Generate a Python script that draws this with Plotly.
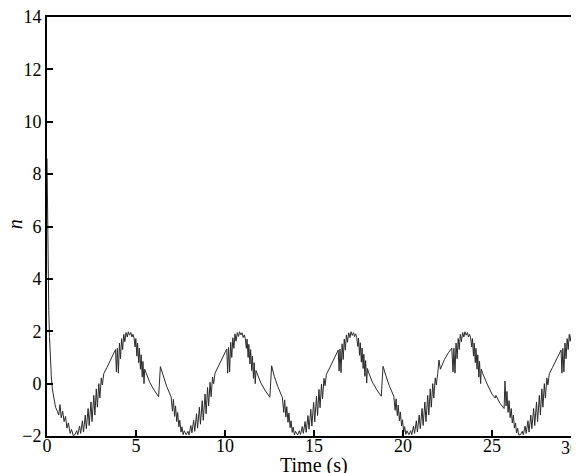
import plotly.graph_objects as go

# initial transient (t, n)
t_start = [0.00, 0.03, 0.06, 0.10, 0.14, 0.18, 0.24, 0.30, 0.38, 0.48, 0.58, 0.66, 0.73, 0.80, 0.88,
           0.96, 1.04, 1.12, 1.20, 1.30, 1.38, 1.47]
n_start = [8.6, 6.0, 4.2, 2.8, 1.8, 1.0, 0.3, -0.2, -0.6, -0.9, -1.05, -1.2, -0.8, -1.3, -1.05,
           -1.45, -1.25, -1.7, -1.5, -1.9, -1.75, -1.98]

# first cycle
t_p1 = [1.57, 1.67, 1.73, 1.83, 1.89, 1.99, 2.05, 2.15, 2.21, 2.31, 2.37, 2.47, 2.53, 2.63, 2.69, 2.77,
        2.83, 2.91, 2.97, 3.05, 3.11, 3.19,
        3.37, 3.57, 3.72, 3.85,
        3.90, 3.95, 4.01, 4.07, 4.13, 4.19, 4.25, 4.31, 4.37, 4.44, 4.51, 4.57, 4.64, 4.71, 4.77, 4.83,
        4.89, 4.95, 4.99, 5.05, 5.09, 5.15, 5.19, 5.25, 5.29, 5.35, 5.39, 5.45, 5.49, 5.57, 5.77, 6.02, 6.27,
        6.37, 6.52, 6.72, 6.97,
        7.05, 7.10, 7.17, 7.22, 7.29, 7.34, 7.41, 7.46, 7.53, 7.58, 7.65, 7.71]
n_p1 = [-1.95, -1.80, -1.95, -1.62, -1.90, -1.42, -1.85, -1.20, -1.72, -0.95, -1.60, -0.70, -1.45, -0.45,
        -1.20, -0.20, -0.90, 0.00, -0.55, 0.22, -0.05, 0.38,
        0.62, 0.92, 1.15, 1.30,
        0.45, 1.35, 0.40, 1.55, 0.95, 1.72, 1.30, 1.88, 1.60, 1.95, 1.78, 1.98, 1.85, 1.95, 1.78, 1.88,
        1.75, 1.40, 1.72, 1.05, 1.55, 0.80, 1.35, 0.55, 1.10, 0.25, 0.85, 0.00, 0.55, 0.38, 0.05, -0.25, -0.50,
        0.65, 0.30, -0.10, -0.50,
        -1.05, -0.60, -1.25, -0.85, -1.45, -1.10, -1.65, -1.40, -1.85, -1.65, -1.95, -1.80]

# second cycle
t_p2 = [7.82, 7.92, 7.98, 8.08, 8.14, 8.24, 8.30, 8.40, 8.46, 8.56, 8.62, 8.72, 8.78, 8.88, 8.94, 9.02,
        9.08, 9.16, 9.22, 9.30, 9.36, 9.44,
        9.62, 9.82, 9.97, 10.10,
        10.15, 10.20, 10.26, 10.32, 10.38, 10.44, 10.50, 10.56, 10.62, 10.69, 10.76, 10.82, 10.89, 10.96,
        11.02, 11.08,
        11.14, 11.20, 11.24, 11.30, 11.34, 11.40, 11.44, 11.50, 11.54, 11.60, 11.64, 11.70, 11.74, 11.82,
        12.02, 12.27, 12.52,
        12.62, 12.77, 12.97, 13.22,
        13.30, 13.35, 13.42, 13.47, 13.54, 13.59, 13.66, 13.71, 13.78, 13.83, 13.90, 13.96]
n_p2 = [-1.95, -1.82, -1.96, -1.60, -1.88, -1.40, -1.82, -1.15, -1.70, -0.90, -1.55, -0.65, -1.40, -0.40,
        -1.15, -0.15, -0.85, 0.05, -0.50, 0.25, 0.00, 0.40,
        0.65, 0.95, 1.18, 1.32,
        0.40, 1.38, 0.45, 1.58, 1.00, 1.75, 1.35, 1.90, 1.62, 1.95, 1.80, 1.98, 1.86, 1.94, 1.76, 1.86,
        1.72, 1.35, 1.70, 1.00, 1.50, 0.75, 1.30, 0.50, 1.05, 0.20, 0.80, 0.00, 0.50, 0.35, 0.02, -0.28, -0.52,
        0.68, 0.28, -0.12, -0.52,
        -1.10, -0.62, -1.28, -0.88, -1.48, -1.12, -1.68, -1.42, -1.86, -1.66, -1.96, -1.82]

# third cycle
t_p3 = [14.08, 14.18, 14.24, 14.34, 14.40, 14.50, 14.56, 14.66, 14.72, 14.82, 14.88, 14.98, 15.04, 15.14,
        15.20, 15.28, 15.34, 15.42, 15.48, 15.56, 15.62, 15.70,
        15.88, 16.08, 16.23, 16.36,
        16.41, 16.46, 16.52, 16.58, 16.64, 16.70, 16.76, 16.82, 16.88, 16.95, 17.02, 17.08, 17.15, 17.22,
        17.28, 17.34,
        17.40, 17.46, 17.50, 17.56, 17.60, 17.66, 17.70, 17.76, 17.80, 17.86, 17.90, 17.96, 18.00, 18.08,
        18.28, 18.53, 18.78,
        18.88, 19.03, 19.23, 19.48,
        19.56, 19.61, 19.68, 19.73, 19.80, 19.85, 19.92, 19.97, 20.04, 20.09, 20.16, 20.22]
n_p3 = [-1.96, -1.80, -1.94, -1.64, -1.90, -1.45, -1.86, -1.22, -1.74, -0.98, -1.62, -0.72, -1.46, -0.48,
        -1.22, -0.22, -0.92, -0.02, -0.58, 0.20, -0.08, 0.36,
        0.60, 0.90, 1.12, 1.28,
        0.48, 1.32, 0.42, 1.52, 0.92, 1.70, 1.28, 1.86, 1.58, 1.94, 1.76, 1.98, 1.84, 1.95, 1.80, 1.90,
        1.76, 1.42, 1.74, 1.08, 1.56, 0.82, 1.36, 0.58, 1.12, 0.28, 0.88, 0.02, 0.58, 0.40, 0.06, -0.24, -0.48,
        0.66, 0.32, -0.08, -0.48,
        -1.02, -0.58, -1.22, -0.82, -1.42, -1.08, -1.62, -1.38, -1.84, -1.64, -1.94, -1.80]

# fourth cycle
t_p4 = [20.33, 20.43, 20.49, 20.59, 20.65, 20.75, 20.81, 20.91, 20.97, 21.07, 21.13, 21.23, 21.29, 21.39,
        21.45, 21.53, 21.59, 21.67, 21.73, 21.81, 21.87, 21.95,
        22.02, 22.10, 22.33, 22.55, 22.74,
        22.81, 22.86, 22.92, 22.98, 23.04, 23.10, 23.16, 23.22, 23.28, 23.35, 23.42, 23.48, 23.55, 23.62,
        23.68, 23.74,
        23.80, 23.86, 23.90, 23.96, 24.00, 24.06, 24.10, 24.16, 24.20, 24.26, 24.30, 24.36, 24.40, 24.48,
        24.75, 25.00, 25.18, 25.22, 25.45, 25.68,
        25.73, 25.79, 25.84, 25.90, 25.96, 26.02, 26.08, 26.14, 26.20, 26.26, 26.32, 26.38, 26.44, 26.50]
n_p4 = [-1.95, -1.80, -1.95, -1.62, -1.90, -1.42, -1.85, -1.20, -1.72, -0.95, -1.60, -0.70, -1.45, -0.45,
        -1.20, -0.20, -0.90, 0.00, -0.55, 0.22, -0.05, 0.38,
        0.90, 0.55, 0.92, 1.18, 1.35,
        0.45, 1.35, 0.40, 1.55, 0.95, 1.72, 1.30, 1.88, 1.60, 1.95, 1.78, 1.98, 1.85, 1.95, 1.78, 1.88,
        1.75, 1.40, 1.72, 1.05, 1.55, 0.80, 1.35, 0.55, 1.10, 0.25, 0.85, 0.00, 0.55, 0.38, -0.05, -0.40,
        -0.55, -0.45, -0.75, -0.95,
        0.10, -0.85, -0.30, -1.10, -0.65, -1.30, -0.95, -1.50, -1.20, -1.70, -1.50, -1.88, -1.70, -1.96]

# fifth cycle (runs to the end of the axis)
t_p5 = [26.60, 26.70, 26.76, 26.86, 26.92, 27.02, 27.08, 27.18, 27.24, 27.34, 27.40, 27.50, 27.56, 27.66,
        27.72, 27.80, 27.86, 27.94, 28.00, 28.08, 28.14, 28.22,
        28.40, 28.60, 28.75, 28.88,
        28.93, 28.98, 29.04, 29.10, 29.16, 29.22, 29.28, 29.34, 29.40, 29.47, 29.54, 29.60, 29.67, 29.74,
        29.80, 29.86, 29.92, 30.00]
n_p5 = [-1.95, -1.82, -1.95, -1.62, -1.90, -1.42, -1.85, -1.20, -1.72, -0.95, -1.60, -0.70, -1.45, -0.45,
        -1.20, -0.20, -0.90, 0.00, -0.55, 0.22, -0.05, 0.38,
        0.62, 0.92, 1.15, 1.28,
        0.40, 1.35, 0.45, 1.55, 0.95, 1.72, 1.30, 1.88, 1.62, 1.95, 1.80, 1.98, 1.86, 1.94, 1.82, 1.90, 1.92, 1.90]

x_ticks = [0, 5, 10, 15, 20, 25, 30]
x_labels = ['0', '5', '10', '15', '20', '25', '']   # '30' is placed by hand at the cut edge
y_ticks = [-2, 0, 2, 4, 6, 8, 10, 12, 14]

t_all = t_start + t_p1 + t_p2 + t_p3 + t_p4 + t_p5
n_all = n_start + n_p1 + n_p2 + n_p3 + n_p4 + n_p5

fig = go.Figure()
fig.add_trace(go.Scatter(x=t_all, y=n_all, mode='lines',
                         line=dict(color='#2a2a2a', width=1), showlegend=False))

font = 'Liberation Serif'
axis_style = dict(showline=True, linecolor='black', linewidth=2, ticks='inside',
                  ticklen=6, tickwidth=2, tickcolor='black', showgrid=False, zeroline=False,
                  automargin=False, mirror=True, ticklabeloverflow='allow',
                  tickfont=dict(family=font, size=18, color='black'))

fig.update_xaxes(range=[0, 30], tickvals=x_ticks, ticktext=x_labels, ticklabelstandoff=-8, **axis_style)
fig.update_yaxes(range=[-2, 14], tickvals=y_ticks, **axis_style)

# the page body adds 8px around the figure; margins allow for that offset
fig.update_layout(
    width=579, height=473,
    margin=dict(l=39, r=6, t=9, b=45),
    plot_bgcolor='white', paper_bgcolor='white',
    annotations=[
        dict(text='Time (s)', x=0.5, y=-0.07, xref='paper', yref='paper', showarrow=False,
             xanchor='center', yanchor='middle', font=dict(family=font, size=20, color='black')),
        dict(text='<i>n</i>', x=-0.06, y=0.505, xref='paper', yref='paper', showarrow=False,
             xanchor='center', yanchor='middle', textangle=-90,
             font=dict(family=font, size=20, color='black')),
        dict(text='30', x=0.98, y=-0.028, xref='paper', yref='paper', showarrow=False,
             xanchor='center', yanchor='middle', font=dict(family=font, size=18, color='black')),
    ],
)

fig.write_html("out.html")
